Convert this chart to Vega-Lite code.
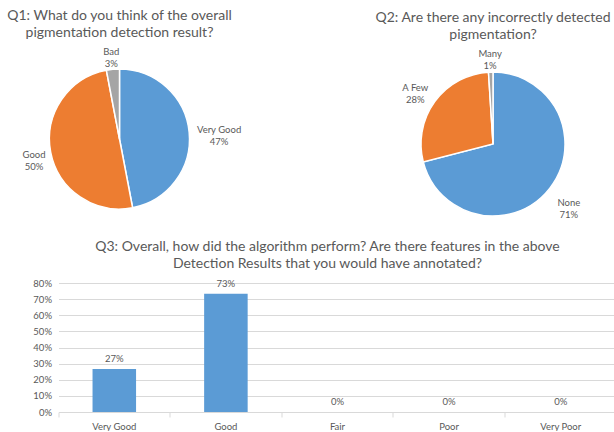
{
  "$schema": "https://vega.github.io/schema/vega-lite/v6.json",
  "background": "white",
  "padding": {"left": 6.5, "top": 9, "right": 0, "bottom": 0},
  "spacing": 10,
  "config": {
    "view": {"stroke": null},
    "font": "Lato",
    "title": {"font": "Lato", "fontSize": 14, "fontWeight": "normal", "color": "#595959", "lineHeight": 17, "anchor": "middle", "frame": "group"},
    "text": {"font": "Lato", "fontSize": 9.5, "color": "#595959"},
    "axis": {"labelFont": "Lato", "labelFontSize": 9.5, "labelColor": "#595959"}
  },
  "vconcat": [
    {
      "bounds": "flush",
      "spacing": 212.5,
      "hconcat": [
        {
          "width": 122,
          "height": 160,
          "title": {"text": ["Q1: What do you think of the overall", "pigmentation detection result?"], "offset": 7},
          "data": {"values": [
            {"answer": "Very Good", "share": 0.47},
            {"answer": "Good", "share": 0.50},
            {"answer": "Bad", "share": 0.03}
          ]},
          "transform": [{"calculate": "datum.answer + '\\n' + format(datum.share, '.0%')", "as": "label"}],
          "encoding": {
            "theta": {"field": "share", "type": "quantitative", "stack": true},
            "order": {"field": "answer", "sort": "descending"}
          },
          "layer": [
            {
              "mark": {"type": "arc", "outerRadius": 70, "stroke": "white", "strokeWidth": 1.5},
              "encoding": {
                "color": {"field": "answer", "type": "nominal", "legend": null,
                  "scale": {"domain": ["Very Good", "Good", "Bad"], "range": ["#5B9BD5", "#ED7D31", "#A5A5A5"]}}
              }
            },
            {
              "mark": {"type": "text", "radius": {"expr": "datum.answer === 'Very Good' ? 100 : 87"}, "lineBreak": "\n", "lineHeight": 12, "color": "#595959", "fontSize": 9.5},
              "encoding": {
                "detail": {"field": "answer", "type": "nominal"},
                "text": {"field": "label", "type": "nominal"}
              }
            }
          ]
        },
        {
          "width": 200,
          "height": 170,
          "title": {"text": ["Q2: Are there any incorrectly detected", "pigmentation?"], "offset": 7},
          "data": {"values": [
            {"answer": "None", "share": 0.71},
            {"answer": "A Few", "share": 0.28},
            {"answer": "Many", "share": 0.01}
          ]},
          "transform": [{"calculate": "datum.answer + '\\n' + format(datum.share, '.0%')", "as": "label"}],
          "encoding": {
            "theta": {"field": "share", "type": "quantitative", "stack": true},
            "order": {"field": "share", "sort": "descending"}
          },
          "layer": [
            {
              "mark": {"type": "arc", "outerRadius": 72, "stroke": "white", "strokeWidth": 1.5},
              "encoding": {
                "color": {"field": "answer", "type": "nominal", "legend": null,
                  "scale": {"domain": ["None", "A Few", "Many"], "range": ["#5B9BD5", "#ED7D31", "#A5A5A5"]}}
              }
            },
            {
              "mark": {"type": "text", "radius": {"expr": "datum.answer === 'Many' ? 90 : 96"}, "lineBreak": "\n", "lineHeight": 12, "color": "#595959", "fontSize": 9.5},
              "encoding": {
                "detail": {"field": "answer", "type": "nominal"},
                "text": {"field": "label", "type": "nominal"}
              }
            }
          ]
        }
      ]
    },
    {
      "width": 558,
      "height": 129,
      "title": {"text": ["Q3: Overall, how did the algorithm perform?  Are there features in the above", "Detection Results that you would have annotated?"], "offset": 7.5, "dx": -10},
      "data": {"values": [
        {"rating": "Very Good", "share": 0.2667},
        {"rating": "Good", "share": 0.7333},
        {"rating": "Fair", "share": 0},
        {"rating": "Poor", "share": 0},
        {"rating": "Very Poor", "share": 0}
      ]},
      "encoding": {
        "x": {"field": "rating", "type": "nominal", "sort": null,
          "scale": {"paddingInner": 0, "paddingOuter": 0},
          "axis": {"title": null, "labelAngle": 0, "bandPosition": 0, "domainColor": "#D9D9D9", "tickColor": "#D9D9D9", "tickSize": 5, "labelPadding": 4, "grid": false}},
        "y": {"field": "share", "type": "quantitative", "scale": {"domain": [0, 0.8]},
          "axis": {"title": null, "values": [0, 0.1, 0.2, 0.3, 0.4, 0.5, 0.6, 0.7, 0.8], "format": ".0%", "domain": false, "ticks": false, "gridColor": "#D9D9D9", "labelPadding": 7}}
      },
      "layer": [
        {"mark": {"type": "bar", "width": {"band": 0.39}, "color": "#5B9BD5"}},
        {"mark": {"type": "text", "dy": -10, "fontSize": 9.5, "color": "#595959"},
          "encoding": {"text": {"field": "share", "type": "quantitative", "format": ".0%"}}}
      ]
    }
  ]
}
